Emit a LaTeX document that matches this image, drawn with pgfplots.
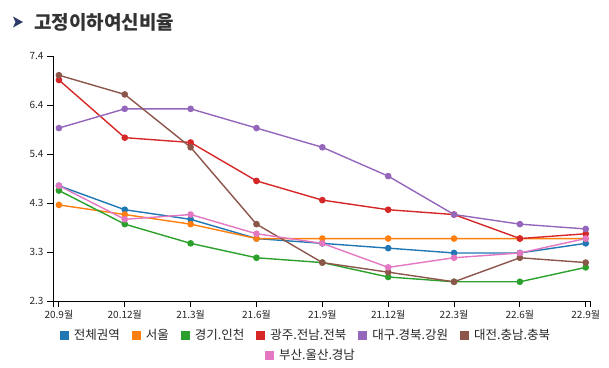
\documentclass[border=0pt]{standalone}
\usepackage{pgfplots}
\pgfplotsset{compat=1.18}
\usepackage{fontspec}
\setmainfont{Noto Sans CJK KR}
\definecolor{c1}{HTML}{1F77B4}
\definecolor{c2}{HTML}{FF7F0E}
\definecolor{c3}{HTML}{2CA02C}
\definecolor{c4}{HTML}{D62728}
\definecolor{c5}{HTML}{9467BD}
\definecolor{c6}{HTML}{8C564B}
\definecolor{c7}{HTML}{E377C2}
\definecolor{navy}{HTML}{2B3A67}
\definecolor{titlegray}{HTML}{333333}
\newcommand{\lsq}[1]{\textcolor{#1}{\rule[-0.2bp]{9bp}{9bp}}\hspace{5bp}}
\begin{document}
\begin{tikzpicture}
\path[use as bounding box] (0bp,0bp) rectangle (609bp,-368bp);
\fill[navy] (13bp,-16.5bp) -- (23bp,-22bp) -- (13bp,-27.5bp) -- (15.5bp,-22bp) -- cycle;
\node[anchor=west, inner sep=0pt, text=titlegray, font=\fontsize{19bp}{22bp}\selectfont\bfseries] at (34bp,-22bp) {고정이하여신비율};
\begin{axis}[
  at={(53bp,-301bp)}, anchor=south west,
  scale only axis, width=537bp, height=245bp,
  xmin=-0.09, xmax=8.065, ymin=2.3, ymax=7.4,
  axis lines=left,
  axis line style={-, black, line width=0.9bp},
  xtick={0,...,8},
  xticklabels={20.9월,20.12월,21.3월,21.6월,21.9월,21.12월,22.3월,22.6월,22.9월},
  extra x ticks={-0.09,8.065}, extra x tick labels={},
  ytick={2.3,3.32,4.34,5.36,6.38,7.4},
  yticklabels={2.3,3.3,4.3,5.4,6.4,7.4},
  tick align=outside, major tick length=6bp,
  tick style={black, line width=0.9bp},
  ticklabel style={font=\fontsize{10bp}{12bp}\selectfont, text=black!85},
  /pgf/number format/assume math mode=true,
  clip=false,
  every axis plot/.append style={line width=1.4bp, mark=*, mark size=2.6bp, mark options={solid}},
]
\addplot[c1, mark options={fill=c1}] coordinates {(0,4.7)(1,4.2)(2,4.0)(3,3.6)(4,3.5)(5,3.4)(6,3.3)(7,3.3)(8,3.5)};
\addplot[c2, mark options={fill=c2}] coordinates {(0,4.3)(1,4.1)(2,3.9)(3,3.6)(4,3.6)(5,3.6)(6,3.6)(7,3.6)(8,3.6)};
\addplot[c3, mark options={fill=c3}] coordinates {(0,4.6)(1,3.9)(2,3.5)(3,3.2)(4,3.1)(5,2.8)(6,2.7)(7,2.7)(8,3.0)};
\addplot[c4, mark options={fill=c4}] coordinates {(0,6.9)(1,5.7)(2,5.6)(3,4.8)(4,4.4)(5,4.2)(6,4.1)(7,3.6)(8,3.7)};
\addplot[c5, mark options={fill=c5}] coordinates {(0,5.9)(1,6.3)(2,6.3)(3,5.9)(4,5.5)(5,4.9)(6,4.1)(7,3.9)(8,3.8)};
\addplot[c6, mark options={fill=c6}] coordinates {(0,7.0)(1,6.6)(2,5.5)(3,3.9)(4,3.1)(5,2.9)(6,2.7)(7,3.2)(8,3.1)};
\addplot[c7, mark options={fill=c7}] coordinates {(0,4.7)(1,4.0)(2,4.1)(3,3.7)(4,3.5)(5,3.0)(6,3.2)(7,3.3)(8,3.6)};
\end{axis}
\node[anchor=center, inner sep=0pt, font=\fontsize{12.5bp}{15bp}\selectfont, text=black!85] at (305bp,-335bp)
  {\lsq{c1}전체권역\hspace{12bp}\lsq{c2}서울\hspace{12bp}\lsq{c3}경기.인천\hspace{12bp}\lsq{c4}광주.전남.전북\hspace{12bp}\lsq{c5}대구.경북.강원\hspace{12bp}\lsq{c6}대전.충남.충북};
\node[anchor=center, inner sep=0pt, font=\fontsize{12.5bp}{15bp}\selectfont, text=black!85] at (310bp,-355bp)
  {\lsq{c7}부산.울산.경남};
\end{tikzpicture}
\end{document}
